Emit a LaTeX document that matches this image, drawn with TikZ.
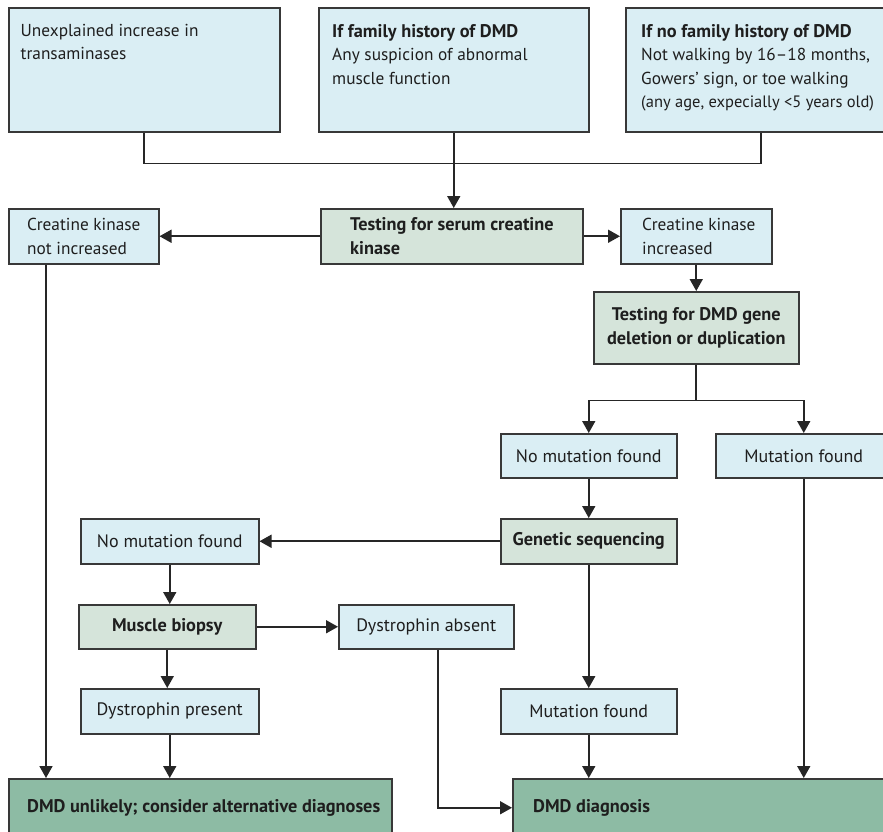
\documentclass[tikz,border=0pt]{standalone}
\usepackage{fontspec}
\setmainfont{PT Sans}
\usetikzlibrary{arrows.meta,calc}
\definecolor{lblue}{HTML}{DAEEF4}
\definecolor{lgreen}{HTML}{D5E4DA}
\definecolor{dgreen}{HTML}{8DBBA4}
\definecolor{edge}{HTML}{383838}
\definecolor{ink}{HTML}{1E1E1E}
\newcommand{\regf}{\fontsize{18}{23.5}\selectfont}
\newcommand{\smallregf}{\fontsize{17.3}{23.5}\selectfont}
\newcommand{\boldf}{\fontsize{18.3}{23.5}\selectfont\bfseries}
\begin{document}
\begin{tikzpicture}[x=1pt,y=-1pt,
  box/.style={draw=edge, line width=1.5pt, inner sep=0pt, anchor=north west, text=ink, align=center, font=\regf},
  bluebox/.style={box, fill=lblue},
  testbox/.style={box, fill=lgreen, font=\boldf},
  finalbox/.style={box, fill=dgreen},
  txt/.style={inner sep=0pt, text=ink, align=left, font=\smallregf},
  btxt/.style={txt, font=\boldf},
  conn/.style={draw=black!85, line width=1.7pt},
  arr/.style={conn, -{Triangle[length=12pt,width=13pt]}}
]
\useasboundingbox (0,0) rectangle (883,831);
\fill[white] (0,0) rectangle (883,831);
\begin{scope}
\clip (0,0) rectangle (883,831);
% top boxes
\node[bluebox, minimum width=271pt, minimum height=124pt] (A) at (8,7) {};
\node[txt, anchor=north west] (Atxt) at ($(A.north west)+(12.5,17)$) {Unexplained increase in\\transaminases};
\node[bluebox, minimum width=270pt, minimum height=124pt] (B) at (318,7) {};
\node[txt, anchor=north west] (Btxt) at ($(B.north west)+(14,17)$) {{\boldf If family history of DMD}\\Any suspicion of abnormal\\muscle function};
\node[bluebox, minimum width=270pt, minimum height=124pt] (C) at (625,7) {};
\node[txt, anchor=north west] (Ctxt) at ($(C.north west)+(16,17)$) {{\boldf If no family history of DMD}\\Not walking by 16--18 months,\\Gowers’ sign, or toe walking\\{\fontsize{16.5}{23.5}\selectfont (any age, expecially <5 years old)}};
% row 2
\node[testbox, minimum width=262pt, minimum height=55pt] (serum) at (320,208) {};
\node[btxt, anchor=west] (serumtxt) at ($(serum.west)+(30,0)$) {Testing for serum creatine\\kinase};
\node[bluebox, minimum width=150pt, minimum height=55pt] (cknot) at (8,208) {};
\node[txt, anchor=west] (cknottxt) at ($(cknot.west)+(19,0)$) {Creatine kinase\\not increased};
\node[bluebox, minimum width=151pt, minimum height=55pt] (ckinc) at (620,208) {};
\node[txt, anchor=west] (ckinctxt) at ($(ckinc.west)+(22,0)$) {Creatine kinase\\increased};
\node[testbox, minimum width=205pt, minimum height=72pt] (dmdtest) at (593,291) {Testing for DMD gene\\deletion or duplication};
\node[bluebox, minimum width=176pt, minimum height=44pt] (nomut1) at (500,433) {No mutation found};
\node[bluebox, minimum width=176pt, minimum height=44pt] (mut1) at (715,433) {Mutation found};
\node[testbox, minimum width=176pt, minimum height=45pt] (genseq) at (500,518) {Genetic sequencing};
\node[bluebox, minimum width=178pt, minimum height=45pt] (nomut2) at (80,518) {No mutation found};
\node[testbox, minimum width=177pt, minimum height=44pt] (biopsy) at (78,604) {Muscle biopsy};
\node[bluebox, minimum width=175pt, minimum height=44pt] (dysabs) at (338,604) {Dystrophin absent};
\node[bluebox, minimum width=178pt, minimum height=45pt] (dyspres) at (80,688) {Dystrophin present};
\node[bluebox, minimum width=176pt, minimum height=45pt] (mut2) at (500,688) {Mutation found};
\node[finalbox, minimum width=383pt, minimum height=58pt] (unlikely) at (8,778) {};
\node[btxt, anchor=west] (unlikelytxt) at ($(unlikely.west)+(19,0)$) {DMD unlikely; consider alternative diagnoses};
\node[finalbox, minimum width=388pt, minimum height=58pt] (diag) at (512,778) {};
\node[btxt, anchor=west] (diagtxt) at ($(diag.west)+(21,0)$) {DMD diagnosis};
% connectors
\coordinate (j) at ($(B.south)+(0,31)$);
\draw[conn] (A.south) |- (j) -| (C.south);
\draw[arr] (B.south) -- (B.south |- serum.north);
\draw[arr] (serum.west) -- (cknot.east);
\draw[arr] (serum.east) -- (ckinc.west);
\draw[arr] (ckinc.south) -- (dmdtest.north);
\coordinate (k) at ($(dmdtest.south)+(0,36)$);
\draw[conn] (dmdtest.south) -- (k);
\draw[arr] (k) -| (nomut1.north);
\draw[arr] (k) -| (mut1.north);
\draw[arr] (nomut1.south) -- (genseq.north);
\draw[arr] (genseq.west) -- (nomut2.east);
\draw[arr] (nomut2.south) -- (nomut2.south |- biopsy.north);
\draw[arr] (biopsy.east) -- (dysabs.west);
\draw[arr] (biopsy.south) -- (biopsy.south |- dyspres.north);
\draw[arr] (genseq.south) -- (mut2.north);
\coordinate (cn) at ($(cknot.south west)+(38,0)$);
\draw[arr] (cn) -- (cn |- unlikely.north);
\draw[arr] (dyspres.south) -- (dyspres.south |- unlikely.north);
\draw[arr] (mut2.south) -- (mut2.south |- diag.north);
\draw[arr] (mut1.south) -- (mut1.south |- diag.north);
\coordinate (da) at ($(dysabs.south)+(11.5,0)$);
\draw[arr] (da) |- (diag.west);
\end{scope}
\end{tikzpicture}
\end{document}
